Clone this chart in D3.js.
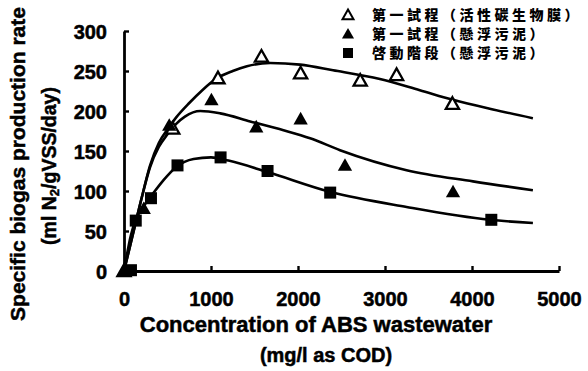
<!DOCTYPE html>
<html>
<head>
<meta charset="utf-8">
<script src="https://cdn.jsdelivr.net/npm/d3@7"></script>
<style>
  html, body { margin: 0; padding: 0; background: #fff; }
  svg { display: block; }
</style>
</head>
<body>
<svg id="chart" width="588" height="371"></svg>
<script>
// ---- data ----
const seriesNames = ["第一試程（活性碳生物膜）", "第一試程（懸浮污泥）", "啓動階段（懸浮污泥）"];
const xTicks = [0, 1000, 2000, 3000, 4000, 5000];
const yTicks = [0, 50, 100, 150, 200, 250, 300];

// measured points
const openTriangles = [[0,0],[560,178],[1080,241],[1580,268],[2030,247],[2715,238],[3133,245],[3775,209]];
const filledTriangles = [[0,0],[227,78],[520,182],[1005,214],[1520,180],[2030,190],[2540,132],[3782,99]];
const squares = [[80,1],[135,63],[310,91],[615,132],[1110,142],[1650,125],[2370,98],[4222,64]];

// fitted curves
const curveOpen = [[0,0],[100,45],[200,90],[300,132],[400,160],[500,177],[600,192],[750,210],[900,226],[1069,241],[1250,250],[1413,256],[1680,260],[2024,258],[2403,251],[2941,240],[3400,226],[3782,214],[4241,202],[4700,191]];
const curveFilled = [[0,0],[100,45],[200,90],[300,130],[400,155],[500,171],[600,184],[700,193],[877,200],[1106,197],[1450,187],[1833,176],[2139,166],[2483,151],[3248,126],[4011,112],[4700,101]];
const curveSquare = [[0,0],[80,45],[130,63],[200,77],[300,92],[450,113],[600,130],[800,140],[1000,142],[1200,138],[1642,124],[2368,99],[3248,80],[4203,64],[4700,60]];

// ---- drawing ----
const svg = d3.select("#chart");
const x = d3.scaleLinear().domain([0, 5000]).range([124, 559]);
const y = d3.scaleLinear().domain([0, 300]).range([271, 31]);

const latin = (sel, size) => sel.attr("font-family", "'Liberation Sans', Arial, sans-serif")
  .attr("font-weight", "bold").attr("font-size", size).attr("fill", "#000")
  .attr("stroke", "#000").attr("stroke-width", 0.5);

// curves
const line = d3.line().x(d => x(d[0])).y(d => y(d[1])).curve(d3.curveMonotoneX);
[curveOpen, curveFilled, curveSquare].forEach(c => {
  svg.append("path").attr("d", line(c)).attr("fill", "none").attr("stroke", "#000").attr("stroke-width", 2.6);
});

// axes
const xAxis = d3.axisBottom(x).tickValues(xTicks).tickSizeInner(-5).tickSizeOuter(0).tickFormat(d3.format("d"));
const yAxis = d3.axisLeft(y).tickValues(yTicks).tickSizeInner(-5).tickSizeOuter(0).tickFormat(d3.format("d"));

const gx = svg.append("g").attr("transform", `translate(0,${y(0)})`).call(xAxis)
  .attr("font-size", null).attr("font-family", null);
gx.select(".domain").attr("stroke-width", 2.8);
gx.selectAll(".tick line").attr("stroke-width", 2.4);
gx.selectAll(".tick text").call(latin, 20).attr("y", 35).attr("dy", 0);

const gy = svg.append("g").attr("transform", `translate(${x(0)},0)`).call(yAxis)
  .attr("font-size", null).attr("font-family", null);
gy.select(".domain").attr("stroke-width", 2.8);
gy.selectAll(".tick line").attr("stroke-width", 2.4);
gy.selectAll(".tick text").call(latin, 20).attr("x", -17).attr("dy", "0.36em");

// markers
const triPath = (cx, cy, s) => `M${cx},${cy - s * 0.55}L${cx + s * 0.55},${cy + s * 0.42}L${cx - s * 0.55},${cy + s * 0.42}Z`;
const sym = svg.append("g");
openTriangles.forEach(d => {
  sym.append("path").attr("d", triPath(x(d[0]), y(d[1]), 12)).attr("fill", "#fff").attr("stroke", "#000").attr("stroke-width", 2.3);
});
filledTriangles.forEach(d => {
  sym.append("path").attr("d", triPath(x(d[0]), y(d[1]), 13)).attr("fill", "#000");
});
squares.forEach(d => {
  sym.append("rect").attr("x", x(d[0]) - 6).attr("y", y(d[1]) - 6).attr("width", 12).attr("height", 12).attr("fill", "#000");
});

// legend
const legend = svg.append("g");
const legY = [15, 34, 53];
legend.append("path").attr("d", triPath(348, legY[0], 10)).attr("fill", "#fff").attr("stroke", "#000").attr("stroke-width", 2);
legend.append("path").attr("d", triPath(348, legY[1], 11)).attr("fill", "#000");
legend.append("rect").attr("x", 343).attr("y", legY[2] - 5).attr("width", 10).attr("height", 10).attr("fill", "#000");
seriesNames.forEach((n, i) => {
  legend.append("text").attr("x", 372).attr("y", legY[i] + 5)
    .attr("font-family", "'Noto Sans CJK TC', 'Noto Sans CJK SC', sans-serif").attr("font-weight", 900)
    .attr("font-size", 14).attr("letter-spacing", 3.5).attr("fill", "#000").text(n);
});

// axis titles
svg.append("text").call(latin, 21)
  .attr("transform", "translate(25,164) rotate(-90)").attr("text-anchor", "middle")
  .text("Specific biogas production rate");
const t2 = svg.append("text").call(latin, 19.5)
  .attr("transform", "translate(56,166) rotate(-90)").attr("text-anchor", "middle");
t2.append("tspan").text("(ml N");
t2.append("tspan").attr("font-size", 13).attr("dy", 3).text("2");
t2.append("tspan").attr("dy", -3).text("/gVSS/day)");

svg.append("text").call(latin, 22).attr("x", 316).attr("y", 332).attr("text-anchor", "middle").text("Concentration of ABS wastewater");
svg.append("text").call(latin, 20).attr("x", 326).attr("y", 362).attr("text-anchor", "middle").text("(mg/l as COD)");
</script>
</body>
</html>
